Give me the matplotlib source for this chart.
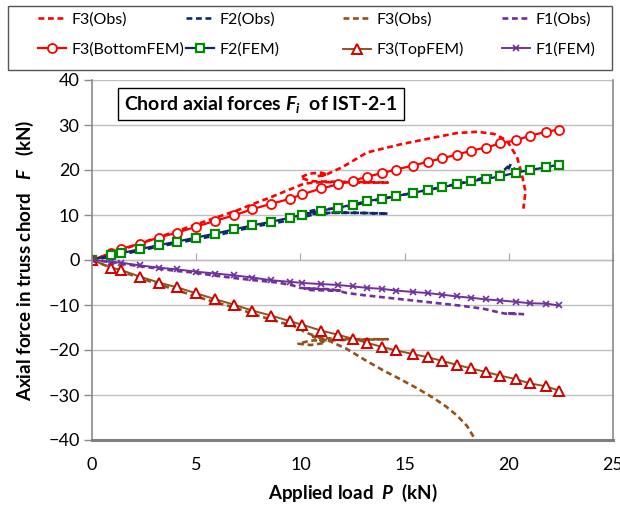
import matplotlib
matplotlib.use("Agg")
import matplotlib.pyplot as plt
from matplotlib.patches import Rectangle
import numpy as np

plt.rcParams["font.family"] = ["Lato", "DejaVu Sans"]
plt.rcParams["mathtext.fontset"] = "custom"
plt.rcParams["mathtext.it"] = "Lato:italic:bold"
plt.rcParams["mathtext.rm"] = "Lato:bold"
plt.rcParams["mathtext.bf"] = "Lato:bold"

# FEM load steps (kN)
p_fem = [0, 0.93, 1.38, 2.3, 3.2, 4.1, 5.0, 5.9, 6.8, 7.7, 8.6, 9.5, 10.1, 11.0, 11.8,
         12.5, 13.2, 13.9, 14.6, 15.4, 16.1, 16.8, 17.5, 18.2, 18.9, 19.6, 20.35, 21.0,
         21.8, 22.4]
f3_bottom_fem = [0, 1.6, 2.5, 3.6, 5.0, 6.1, 7.4, 8.7, 9.9, 11.3, 12.5, 13.6, 14.6, 15.9,
                 16.8, 17.6, 18.5, 19.3, 20.1, 21.0, 21.8, 22.6, 23.4, 24.3, 25.0, 25.9,
                 26.6, 27.6, 28.5, 29.0]
f2_fem = [0, 1.1, 1.5, 2.4, 3.3, 4.1, 5.0, 5.85, 6.8, 7.7, 8.5, 9.4, 10.1, 11.0, 11.6,
          12.3, 13.1, 13.6, 14.2, 14.9, 15.6, 16.2, 16.8, 17.5, 18.0, 18.6, 19.4, 20.0,
          20.6, 21.2]
f3_top_fem = [0, -1.7, -2.2, -3.7, -5.0, -6.1, -7.4, -8.7, -9.9, -11.25, -12.35, -13.6,
              -14.4, -15.7, -16.6, -17.5, -18.4, -19.3, -20.1, -20.9, -21.6, -22.4, -23.3,
              -24.1, -24.9, -25.7, -26.5, -27.4, -28.1, -29.0]
f1_fem = [0, -0.44, -0.6, -1.2, -1.7, -2.1, -2.6, -3.0, -3.4, -3.9, -4.5, -4.85, -5.1,
          -5.35, -5.55, -5.85, -6.2, -6.4, -6.8, -7.1, -7.35, -7.7, -8.1, -8.4, -8.75,
          -9.0, -9.3, -9.6, -9.7, -10.1]

# observed (test) curves
p_f3b_obs = [0, 1, 2, 3, 4, 5, 6, 7, 7.7, 8.5, 9.5, 10.2, 11, 12, 13, 14.2, 13, 11.5, 10.5,
             10.0, 10.4, 11.0, 11.3, 10.8, 11.2, 12, 13.2, 14.8, 16.4, 17.5, 18.5, 19.3,
             19.9, 20.4, 20.65, 20.8, 20.7]
f3b_obs = [0, 1.5, 3.2, 4.8, 6.3, 7.9, 9.5, 11.1, 12.4, 13.8, 15.7, 17.0, 17.3, 17.3, 17.2,
           17.2, 17.3, 17.4, 17.5, 18.3, 19.2, 19.4, 19.0, 18.6, 18.9, 20.6, 23.9, 25.7,
           27.2, 28.2, 28.5, 28.0, 26.6, 22.8, 18.5, 15.2, 11.4]
p_f2_obs = [0, 1, 2, 3, 4, 5, 6, 7, 8, 9, 10, 10.8, 11.5, 12.5, 13.5, 14.2, 13, 11.5, 10.5,
            10.2, 10.8, 11.5, 12.5, 13.5, 14.5, 15.5, 16.5, 17.5, 18.5, 19.3, 19.8, 20.0,
            20.1, 20.0, 20.3]
f2_obs = [0, 0.8, 1.8, 2.8, 3.7, 4.6, 5.5, 6.6, 7.6, 8.4, 9.4, 10.3, 10.5, 10.5, 10.4, 10.3,
          10.45, 10.5, 10.2, 10.6, 11.2, 11.4, 12.1, 13.2, 14.1, 15.0, 15.9, 16.9, 17.9,
          19.0, 20.1, 20.9, 21.4, 20.4, 20.3]
p_f3t_obs = [0, 1, 2, 3, 4, 5, 6, 6.8, 8, 9, 9.7, 10.3, 11, 12, 13, 14.2, 13, 11.5, 10.5,
             9.9, 10.5, 11.2, 10.6, 11.2, 12.2, 13.2, 14.0, 14.8, 15.6, 16.4, 17.0, 17.5,
             18.0, 18.4]
f3t_obs = [0, -1.9, -3.5, -5.1, -6.6, -8.1, -9.5, -10.5, -12.4, -13.8, -14.7, -16.2, -17.3,
           -17.6, -17.6, -17.6, -17.7, -17.8, -17.9, -18.6, -18.9, -18.4, -17.0, -17.6,
           -19.7, -22.5, -24.6, -26.5, -28.5, -30.7, -32.6, -34.5, -36.9, -40.0]
p_f1_obs = [0, 1, 2, 3, 4, 4.9, 5.8, 6.8, 7.8, 8.9, 9.6, 10, 11, 11.9, 10.5, 10.2, 11.5,
            12.2, 13, 14, 15.2, 16.4, 17.6, 18.8, 19.4, 19.8, 20.4, 19.9, 20.9]
f1_obs = [0, -0.5, -1.2, -1.8, -2.4, -2.8, -3.4, -4.0, -4.5, -5.0, -5.6, -6.2, -6.5, -6.8,
          -6.7, -6.3, -6.5, -7.3, -7.8, -8.3, -8.9, -9.5, -10.1, -10.85, -11.5, -11.9,
          -12.0, -11.8, -12.1]

RED = "#ff0000"
NAVY = "#0f2a6b"
BROWN = "#93521b"
PURPLE = "#7030a0"
GREEN = "#008a00"

fig = plt.figure(figsize=(6.2, 5.08), dpi=100)
ax = fig.add_axes([92 / 620, 68 / 508, 521 / 620, 360 / 508])

dash = dict(ls=(0, (2.2, 1.4)), lw=1.9)
h_f3b_obs, = ax.plot(p_f3b_obs, f3b_obs, color=RED, label="F3(Obs)", **dash)
h_f2_obs, = ax.plot(p_f2_obs, f2_obs, color=NAVY, label="F2(Obs)", **dash)
h_f3t_obs, = ax.plot(p_f3t_obs, f3t_obs, color=BROWN, label="F3(Obs)", **dash)
h_f1_obs, = ax.plot(p_f1_obs, f1_obs, color=PURPLE, label="F1(Obs)", **dash)

h_bot, = ax.plot(p_fem, f3_bottom_fem, color=RED, lw=1.6, marker="o", ms=6.5, mfc="white",
                 mec=RED, mew=1.3, label="F3(BottomFEM)")
h_f2, = ax.plot(p_fem, f2_fem, color=NAVY, lw=1.6, marker="s", ms=6, mfc="white",
                mec=GREEN, mew=1.6, label="F2(FEM)")
h_top, = ax.plot(p_fem, f3_top_fem, color=BROWN, lw=1.4, marker="^", ms=6.5, mfc="white",
                 mec="#d00000", mew=1.4, label="F3(TopFEM)")
h_f1, = ax.plot(p_fem, f1_fem, color=PURPLE, lw=1.4, marker="x", ms=5, mew=1.2,
                label="F1(FEM)")

ax.set_xlim(0, 25)
ax.set_ylim(-40, 40)
ax.set_xticks(np.arange(0, 26, 5))
ax.set_yticks(np.arange(-40, 41, 10))
ax.set_axisbelow(True)
ax.yaxis.grid(True, color="#bfbfbf", lw=1)

for s in ["left", "right"]:
    ax.spines[s].set_color("#8a8a8a")
    ax.spines[s].set_linewidth(1.2)
ax.spines["top"].set_visible(False)
ax.spines["bottom"].set_color("#7f7f7f")
ax.spines["bottom"].set_linewidth(2.2)
ax.tick_params(axis="x", length=0, pad=12, labelsize=13)
ax.tick_params(axis="y", length=6, width=1, color="#8a8a8a", pad=3, labelsize=13)

# horizontal axis crossing at zero, ticks only
zero_ax = ax.secondary_xaxis(0.5)
zero_ax.set_xticks(np.arange(0, 26, 5))
zero_ax.set_xticklabels([])
zero_ax.tick_params(axis="x", direction="out", length=5, color="#a6a6a6")
zero_ax.spines["bottom"].set_color("#bfbfbf")
zero_ax.spines["bottom"].set_linewidth(1)

ax.set_xlabel("Applied load  $P$  (kN)", fontsize=13.5, fontweight="bold", labelpad=7)
ax.set_ylabel("Axial force in truss chord   $F$   (kN)", fontsize=13.5, fontweight="bold",
              labelpad=9)

ax.text(0.324, 0.933, "Chord axial forces $F_i$  of IST-2-1", transform=ax.transAxes,
        ha="center", va="center", fontsize=14, fontweight="bold",
        bbox=dict(boxstyle="square,pad=0.3", fc="white", ec="black", lw=1))

# legend: frame box plus four single-column blocks
fig.add_artist(Rectangle((8 / 620, 1 - 70 / 508), 604 / 620, 64 / 508,
                         transform=fig.transFigure, fill=False, ec="#555555", lw=1))
columns = [(h_f3b_obs, h_bot), (h_f2_obs, h_f2), (h_f3t_obs, h_top), (h_f1_obs, h_f1)]
col_x = [38, 186, 343, 502]
for x0, pair in zip(col_x, columns):
    fig.legend(handles=list(pair), labels=[h.get_label() for h in pair], ncol=1,
               loc="upper left", bbox_to_anchor=(x0 / 620, 1 - 12 / 508),
               fontsize=11.5, frameon=False, handlelength=1.75, handletextpad=0.35,
               borderpad=0, borderaxespad=0, labelspacing=1.0)

fig.savefig("out.png", dpi=100)
